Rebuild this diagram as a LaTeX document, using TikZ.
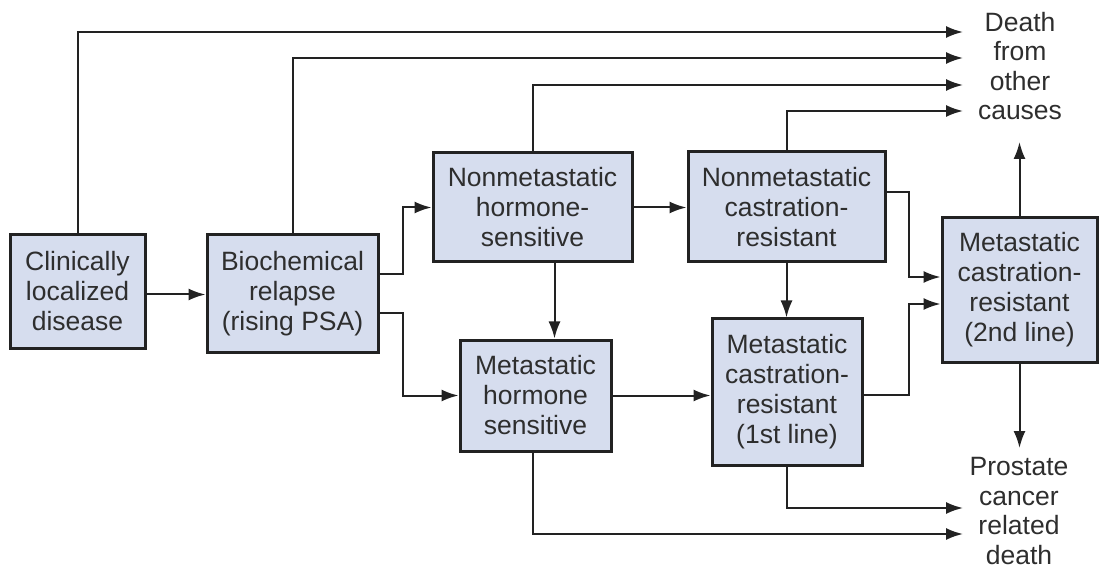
\documentclass[tikz,border=0pt]{standalone}
\usepackage{fontspec}
\setmainfont{Liberation Sans}
\usetikzlibrary{arrows.meta}
\definecolor{boxfill}{HTML}{D6DDEE}
\definecolor{boxdraw}{HTML}{222222}
\definecolor{txt}{HTML}{2E2E2E}
\tikzset{
  stagebox/.style={draw=boxdraw, line width=3pt, fill=boxfill, text=txt, align=center,
    inner sep=0pt, font=\fontsize{26.5}{30}\selectfont},
  outcome/.style={text=txt, align=center, inner sep=0pt, font=\fontsize{26.5}{29.5}\selectfont},
  arr/.style={draw=boxdraw, line width=2pt, -{Latex[length=17pt,width=12pt]}},
}
\begin{document}
\begin{tikzpicture}[x=1pt,y=-1pt]
\useasboundingbox (0,0) rectangle (1103,569);
\node[stagebox, minimum width=135pt, minimum height=113pt] (A) at (77.5,291.5) {Clinically\\localized\\disease};
\node[stagebox, minimum width=171pt, minimum height=117pt] (B) at (292.5,293.5) {Biochemical\\relapse\\(rising PSA)};
\node[stagebox, minimum width=199pt, minimum height=109pt] (C) at (532.5,207.5) {Nonmetastatic\\hormone-\\sensitive};
\node[stagebox, minimum width=197pt, minimum height=110pt] (D) at (786.5,207) {Nonmetastatic\\castration-\\resistant};
\node[stagebox, minimum width=151pt, minimum height=111pt] (E) at (535.5,395.5) {Metastatic\\hormone\\sensitive};
\node[stagebox, minimum width=150pt, minimum height=146pt] (F) at (787,392) {Metastatic\\castration-\\resistant\\(1st line)};
\node[stagebox, minimum width=155pt, minimum height=144pt] (G) at (1019.5,290) {Metastatic\\castration-\\resistant\\(2nd line)};
\node[outcome] (death) at (1020,66) {Death\\from\\other\\causes};
\node[outcome] (pcd) at (1019,511) {Prostate\\cancer\\related\\death};
\coordinate (o1) at (963,32);
\coordinate (o2) at (963,58);
\coordinate (o3) at (963,85);
\coordinate (o4) at (963,111);
\coordinate (p1) at (963,508);
\coordinate (p2) at (963,534);
\coordinate (gu) at (1019.5,142);
\coordinate (gd) at (1019.5,448);
\draw[arr] (A.north) |- (o1);
\draw[arr] (B.north) |- (o2);
\draw[arr] (C.north) |- (o3);
\draw[arr] (D.north) |- (o4);
\draw[arr] ([yshift=-3pt]A.east) -- ([yshift=-3pt]A.east -| B.west);
\draw[arr] ([yshift=19pt]B.east) -- ++(23,0) |- (C.west);
\draw[arr] ([yshift=-19.5pt]B.east) -- ++(23,0) |- (E.west);
\draw[arr] (C.east) -- (C.east -| D.west);
\draw[arr] ([xshift=22pt]C.south) -- ([xshift=22pt]C.south |- E.north);
\draw[arr] (D.south) -- (D.south |- F.north);
\draw[arr] (E.east) -- (E.east -| F.west);
\draw[arr] ([yshift=15pt]D.east) -- ++(22,0) |- ([yshift=13pt]G.west);
\draw[arr] ([yshift=-3pt]F.east) -- ++(45,0) |- ([yshift=-14pt]G.west);
\draw[arr] ([xshift=-2.5pt]E.south) |- (p2);
\draw[arr] (F.south) |- (p1);
\draw[arr] (G.north) -- (gu);
\draw[arr] (G.south) -- (gd);
\end{tikzpicture}
\end{document}
